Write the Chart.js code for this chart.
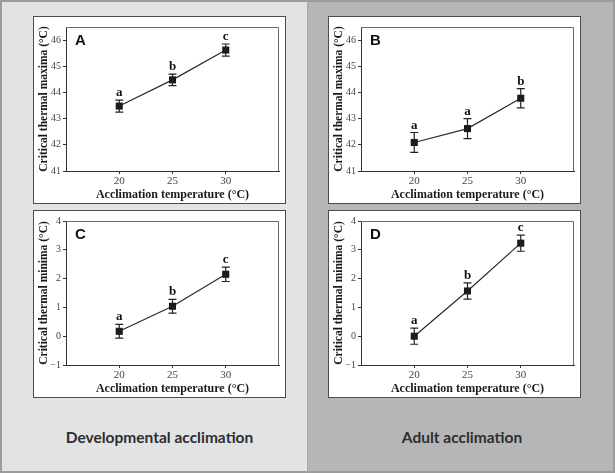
<!DOCTYPE html>
<html>
<head>
<meta charset="utf-8">
<script src="https://cdn.jsdelivr.net/npm/chart.js@4.4.0/dist/chart.umd.min.js"></script>
<style>
  body { margin: 0; background: #fff; }
  #wrap { position: relative; width: 615px; height: 473px; overflow: hidden; }
  .col { position: absolute; top: 0; height: 473px; box-sizing: border-box; }
  #colL { left: 0; width: 307px; background: #e2e3e5; border: 2px solid #9a9c9e; border-right: none; }
  #colR { left: 307px; width: 308px; background: #b4b6b8; border: 2px solid #9a9c9e; border-left: 1px solid #a8aaac; }
  .box { position: absolute; background: #fff; border: 1px solid #4d4d4d; box-sizing: border-box; }
  .box canvas { display: block; }
  .foot { position: absolute; top: 428px; font-family: Lato, "Open Sans", sans-serif; font-weight: bold; font-size: 15.5px; color: #2e2e2e; text-align: center; }
</style>
</head>
<body>
<div id="wrap">
  <div class="col" id="colL"></div>
  <div class="col" id="colR"></div>
  <div class="box" style="left:33px;top:16px;width:253px;height:188px"><canvas id="cA" width="251" height="186"></canvas></div>
  <div class="box" style="left:328px;top:16px;width:253px;height:188px"><canvas id="cB" width="251" height="186"></canvas></div>
  <div class="box" style="left:33px;top:210px;width:253px;height:188px"><canvas id="cC" width="251" height="186"></canvas></div>
  <div class="box" style="left:328px;top:210px;width:253px;height:188px"><canvas id="cD" width="251" height="186"></canvas></div>
  <div class="foot" style="left:33px;width:253px">Developmental acclimation</div>
  <div class="foot" style="left:328px;width:268px">Adult acclimation</div>
</div>
<script>
// acclimation temperatures (°C)
const temps = [20, 25, 30];
const xTicks = [20, 25, 30];
const maxTicks = [41, 42, 43, 44, 45, 46];
const minTicks = [-1, 0, 1, 2, 3, 4];

// critical thermal maxima
const ctmaxDev = [43.48, 44.48, 45.62];
const ctmaxDevErr = [0.23, 0.22, 0.23];
const ctmaxAdult = [42.09, 42.62, 43.78];
const ctmaxAdultErr = [0.38, 0.38, 0.37];

// critical thermal minima
const ctminDev = [0.17, 1.04, 2.15];
const ctminDevErr = [0.24, 0.24, 0.25];
const ctminAdult = [0.0, 1.57, 3.23];
const ctminAdultErr = [0.28, 0.28, 0.28];

// significance letters
const lettersDevMax = ['a', 'b', 'c'];
const lettersAdultMax = ['a', 'a', 'b'];
const lettersDevMin = ['a', 'b', 'c'];
const lettersAdultMin = ['a', 'b', 'c'];

const serif = '"Liberation Serif", "Times New Roman", serif';

// error bars, letters, panel tag and plot frame
const extras = {
  id: 'extras',
  afterDatasetsDraw(chart, args, opts) {
    const ctx = chart.ctx;
    const xs = chart.scales.x, ys = chart.scales.y;
    const ca = chart.chartArea;
    ctx.save();
    // frame top / right
    ctx.strokeStyle = '#6a6a6a';
    ctx.lineWidth = 1;
    ctx.beginPath();
    ctx.moveTo(ca.left, ca.top + 0.5);
    ctx.lineTo(ca.right - 0.5, ca.top + 0.5);
    ctx.lineTo(ca.right - 0.5, ca.bottom);
    ctx.stroke();
    // error bars
    ctx.strokeStyle = '#222';
    ctx.lineWidth = 1.2;
    opts.values.forEach((v, i) => {
      const x = xs.getPixelForValue(temps[i]);
      const yt = ys.getPixelForValue(v + opts.errors[i]);
      const yb = ys.getPixelForValue(v - opts.errors[i]);
      ctx.beginPath();
      ctx.moveTo(x, yt); ctx.lineTo(x, yb);
      ctx.moveTo(x - 4, yt); ctx.lineTo(x + 4, yt);
      ctx.moveTo(x - 4, yb); ctx.lineTo(x + 4, yb);
      ctx.stroke();
      ctx.fillStyle = '#111';
      ctx.font = 'bold 13px ' + serif;
      ctx.textAlign = 'center';
      ctx.textBaseline = 'alphabetic';
      ctx.fillText(opts.letters[i], x, yt - 4);
    });
    ctx.fillStyle = '#111';
    ctx.font = 'bold 15px "Liberation Sans", Arial, sans-serif';
    ctx.textAlign = 'left';
    ctx.textBaseline = 'top';
    ctx.fillText(opts.tag, ca.left + 9, ca.top + 6);
    ctx.restore();
  }
};

function makePanel(id, tag, values, errors, letters, yTicks, yMin, yMax, yTitle) {
  new Chart(document.getElementById(id), {
    type: 'line',
    data: {
      datasets: [{
        data: temps.map((t, i) => ({ x: t, y: values[i] })),
        borderColor: '#2a2a2a',
        borderWidth: 1.2,
        pointStyle: 'rect',
        pointRadius: 5,
        pointBackgroundColor: '#1a1a1a',
        pointBorderWidth: 0,
        tension: 0
      }]
    },
    options: {
      responsive: false,
      animation: false,
      devicePixelRatio: 1,
      layout: { padding: { top: 10, right: 6, left: 0, bottom: 0 } },
      plugins: {
        legend: { display: false },
        tooltip: { enabled: false },
        extras: { tag, values, errors, letters }
      },
      scales: {
        x: {
          type: 'linear',
          min: 15, max: 35,
          afterBuildTicks: s => { s.ticks = xTicks.map(v => ({ value: v })); },
          afterFit: s => { s.height = 32; },
          grid: { drawOnChartArea: false, tickLength: 3, color: '#333' },
          border: { color: '#333', width: 1 },
          ticks: { color: '#444', font: { family: serif, size: 11 }, padding: 1 },
          title: { display: true, text: 'Acclimation temperature (°C)', color: '#1a1a1a',
                   font: { family: serif, size: 12, weight: 'bold' }, padding: { top: 0, bottom: 1 } }
        },
        y: {
          min: yMin, max: yMax,
          afterBuildTicks: s => { s.ticks = yTicks.map(v => ({ value: v })); },
          afterFit: s => { s.width = 32; },
          grid: { drawOnChartArea: false, tickLength: 3, color: '#333' },
          border: { color: '#333', width: 1 },
          ticks: { color: '#444', font: { family: serif, size: 10 }, padding: 2,
                   callback: v => (v < 0 ? '\u2212' + Math.abs(v) : String(v)) },
          title: { display: true, text: yTitle, color: '#1a1a1a',
                   font: { family: serif, size: 11.5, weight: 'bold' }, padding: { top: 3, bottom: 0 } }
        }
      }
    },
    plugins: [extras]
  });
}

makePanel('cA', 'A', ctmaxDev, ctmaxDevErr, lettersDevMax, maxTicks, 41, 46.5, 'Critical thermal maxima (°C)');
makePanel('cB', 'B', ctmaxAdult, ctmaxAdultErr, lettersAdultMax, maxTicks, 41, 46.5, 'Critical thermal maxima (°C)');
makePanel('cC', 'C', ctminDev, ctminDevErr, lettersDevMin, minTicks, -1, 4, 'Critical thermal minima (°C)');
makePanel('cD', 'D', ctminAdult, ctminAdultErr, lettersAdultMin, minTicks, -1, 4, 'Critical thermal minima (°C)');
</script>
</body>
</html>
